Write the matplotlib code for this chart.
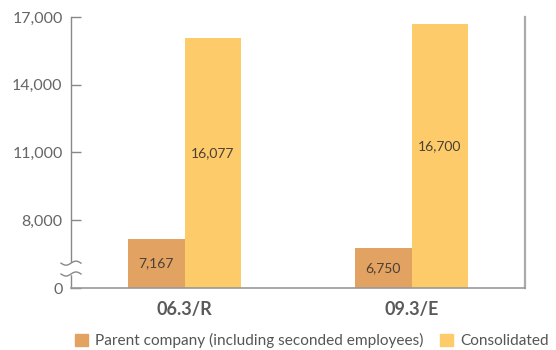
import matplotlib
matplotlib.use("Agg")
import matplotlib.pyplot as plt
import numpy as np
from matplotlib.patches import Patch, Rectangle

plt.rcParams["font.family"] = ["Lato", "DejaVu Sans"]

categories = ["06.3/R", "09.3/E"]
parent = [7167, 6750]
consolidated = [16077, 16700]
series_names = ["Parent company (including seconded employees)", "Consolidated"]

# axis is broken: the "0" baseline sits where 5,000 would be
BASE = 5000
yticks = [5000, 8000, 11000, 14000, 17000]
ytick_labels = ["0", "8,000", "11,000", "14,000", "17,000"]

c_parent = "#E2A262"
c_cons = "#FDCB69"

fig = plt.figure(figsize=(5.56, 3.5), dpi=100)
ax = fig.add_axes([71 / 556, 1 - 288 / 350, (525 - 71) / 556, (288 - 17) / 350])

x = np.arange(len(categories))
w = 0.25
ax.bar(x - w / 2, np.array(parent) - BASE, w, bottom=BASE, color=c_parent)
ax.bar(x + w / 2, np.array(consolidated) - BASE, w, bottom=BASE, color=c_cons)

for i in range(len(categories)):
    ax.text(x[i] - w / 2, (BASE + parent[i]) / 2, f"{parent[i]:,}",
            ha="center", va="center", fontsize=10, color="#4a4036")
    ax.text(x[i] + w / 2, (BASE + consolidated[i]) / 2 + 450, f"{consolidated[i]:,}",
            ha="center", va="center", fontsize=10, color="#4a4036")

ax.set_xlim(-0.5, 1.5)
ax.set_ylim(BASE, 17000)
ax.set_yticks(yticks)
ax.set_yticklabels(ytick_labels)
ax.set_xticks(x)
ax.set_xticklabels(categories, fontsize=13, fontweight="bold", color="#5a5a5a")
ax.tick_params(axis="x", length=0, pad=9)
ax.tick_params(axis="y", direction="in", length=7, width=1, color="#888888",
               labelsize=11.5, labelcolor="#666666", pad=6)

ax.spines["top"].set_visible(False)
ax.spines["left"].set_color("#888888")
ax.spines["left"].set_linewidth(1)
ax.spines["bottom"].set_color("#999999")
ax.spines["bottom"].set_linewidth(1.2)
ax.spines["right"].set_color("#aaaaaa")
ax.spines["right"].set_linewidth(1.6)

# break marks on the value axis
trans = ax.get_yaxis_transform()
yb1, yb2 = 6100, 5620
ax.add_patch(Rectangle((-0.01, yb2), 0.02, yb1 - yb2, transform=trans,
                       color="white", zorder=5, clip_on=False))
t = np.linspace(-1, 1, 40)
for yb in (yb1, yb2):
    ax.plot(t * 0.022, yb + np.sin(t * np.pi) * 90, transform=trans,
            color="#888888", lw=1, zorder=6, clip_on=False)

handles = [Patch(color=c_parent), Patch(color=c_cons)]
fig.legend(handles, series_names, loc="lower right", bbox_to_anchor=(1.012, -0.035),
           ncol=2, frameon=False, fontsize=11.1, handlelength=0.85, handleheight=0.85,
           handletextpad=0.45, columnspacing=1.1, labelcolor="#555555")

fig.savefig("out.png", dpi=100)
